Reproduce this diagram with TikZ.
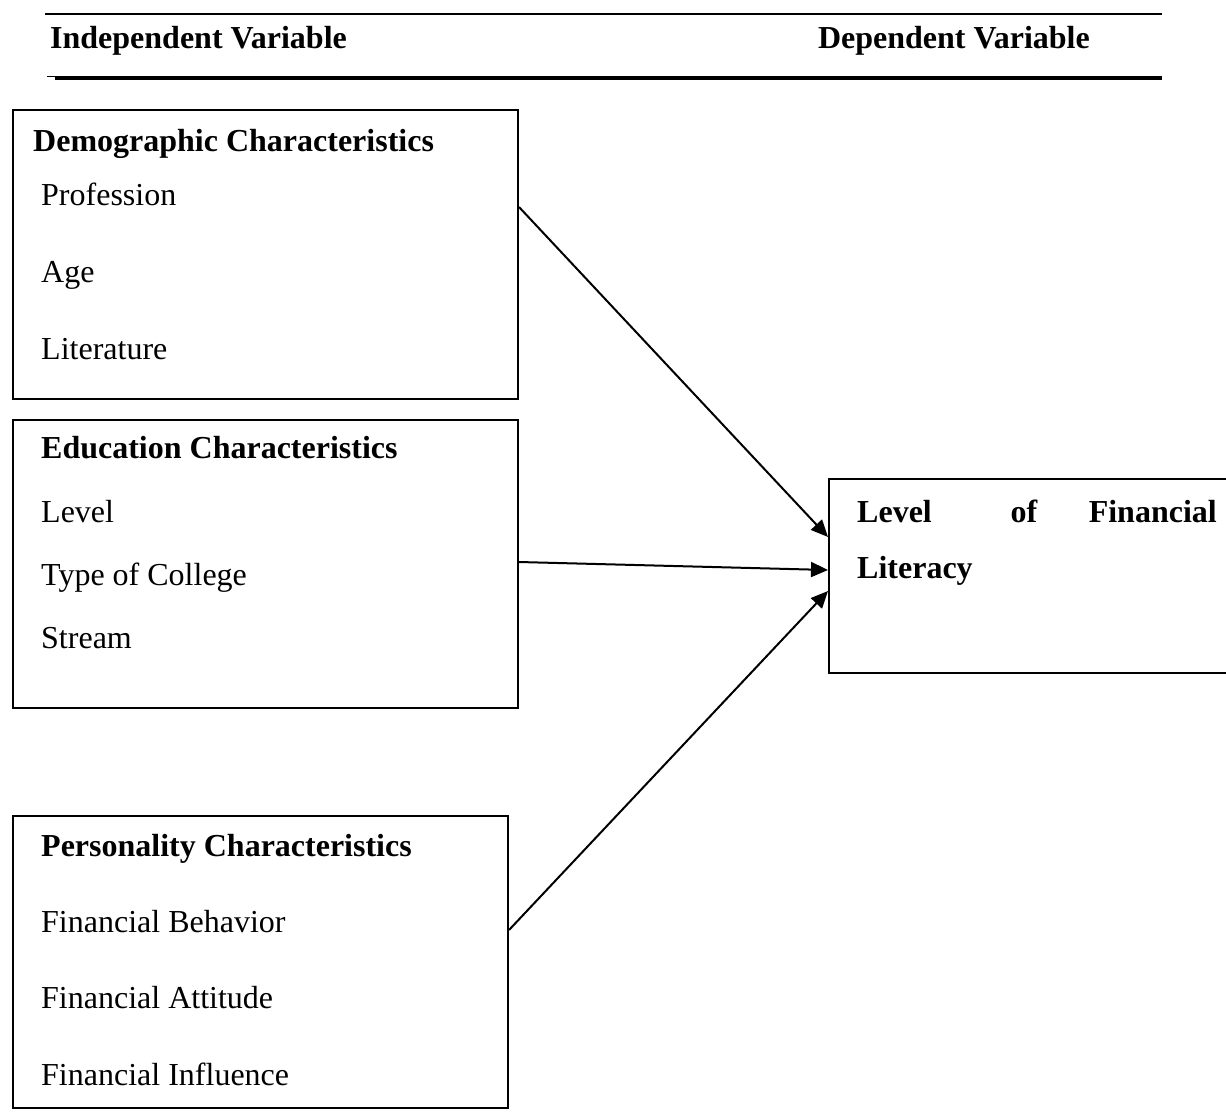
\documentclass[tikz,border=0pt]{standalone}
\usepackage{fontspec}
\setmainfont{Liberation Serif}
\usetikzlibrary{arrows.meta}
\begin{document}
\begin{tikzpicture}[x=1pt,y=-1pt,
  box/.style={draw, line width=2pt, anchor=north west, inner sep=0pt},
  txt/.style={anchor=base west, inner sep=0pt, font=\fontsize{32}{38}\selectfont},
  head/.style={txt, font=\fontsize{32}{38}\selectfont\bfseries},
  conn/.style={line width=2pt, -{Triangle[length=17pt,width=15pt]}}]
\useasboundingbox (0,0) rectangle (1226,1113);
% header rules
\draw[line width=2pt] (45,14) -- (1162,14);
\draw[line width=1.2pt] (47,76.5) -- (56,76.5);
\draw[line width=4pt] (55,78) -- (1162,78);
\node[head] (iv) at (50,49) {Independent Variable};
\node[head, anchor=base east] (dv) at (1090,49) {Dependent Variable};
% boxes
\node[box, minimum width=505pt, minimum height=289pt] (demo) at (12,109) {};
\node[box, minimum width=505pt, minimum height=288pt] (edu) at (12,419) {};
\node[box, minimum width=495pt, minimum height=292pt] (pers) at (12,815) {};
\node[box, minimum width=404pt, minimum height=194pt] (lit) at (828,478) {};
% demographic
\node[head] (d0) at (33,151) {Demographic Characteristics};
\node[txt] (d1) at (41,205) {Profession};
\node[txt] (d2) at (41,282) {Age};
\node[txt] (d3) at (41,359) {Literature};
% education
\node[head] (e0) at (41,458) {Education Characteristics};
\node[txt] (e1) at (41,522) {Level};
\node[txt] (e2) at (41,585) {Type of College};
\node[txt] (e3) at (41,648) {Stream};
% personality
\node[head] (p0) at (41,856) {Personality Characteristics};
\node[txt] (p1) at (41,932) {Financial Behavior};
\node[txt] (p2) at (41,1008) {Financial Attitude};
\node[txt] (p3) at (41,1085) {Financial Influence};
% dependent
\node[head] (l1) at (857,522) {Level};
\node[head, anchor=base] (l2) at (1024,522) {of};
\node[head, anchor=base east] (l3) at (1217,522) {Financial};
\node[head] (l4) at (857,578) {Literacy};
% connectors
\draw[conn] ([yshift=-98pt]demo.north east) -- ([yshift=-59pt]lit.north west);
\draw[conn] ([yshift=-143pt]edu.north east) -- ([yshift=-92pt]lit.north west);
\draw[conn] ([yshift=-115pt]pers.north east) -- ([yshift=-113pt]lit.north west);
\end{tikzpicture}
\end{document}
